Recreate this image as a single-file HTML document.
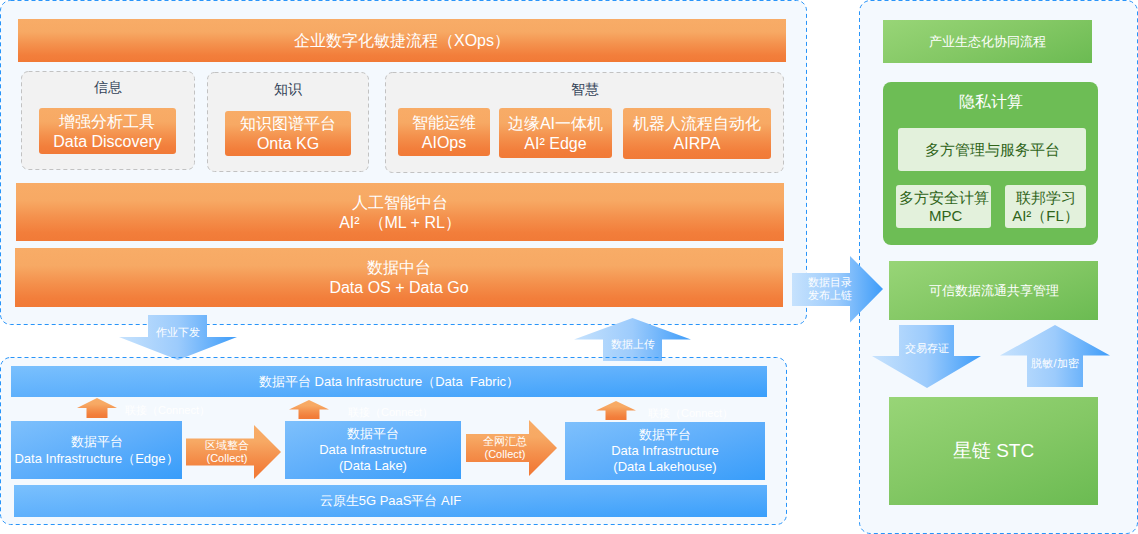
<!DOCTYPE html>
<html><head><meta charset="utf-8">
<style>
*{margin:0;padding:0;box-sizing:border-box}
html,body{width:1138px;height:534px;background:#fff;overflow:hidden}
body{position:relative;font-family:"Liberation Sans",sans-serif;color:#fff}
.a{position:absolute}
.c{display:flex;flex-direction:column;align-items:center;justify-content:center;text-align:center;white-space:nowrap}
.or{background:linear-gradient(180deg,#f8ac67 0%,#f7a964 30%,#f4904c 60%,#f27e3b 85%,#f17a37 100%)}
.bl{background:linear-gradient(to bottom right,#7ec0fc 0%,#5eaefb 50%,#389dfa 100%)}
.blbar{background:linear-gradient(to bottom right,#7ac0fd 0%,#5eb0fc 50%,#3a9ffb 100%)}
.gr{background:linear-gradient(160deg,#98d577 0%,#84c865 50%,#6bbb52 100%)}
.grp{background:#f2f2f2;border:1px dashed #c4c4c4;border-radius:7px}
.btn{border-radius:3px;font-size:16px;line-height:20px}
.gt{color:#334257;font-size:14px}
.lt{background:#e3f1dc;color:#2f6419;border-radius:3px;font-size:15px;line-height:18px}
.cn{color:#fff;font-size:11px}
svg{position:absolute;left:0;top:0}
</style></head><body>

<!-- container backgrounds -->
<svg width="1138" height="534" style="z-index:0">
  <rect x="0.5" y="0.5" width="806" height="324" rx="10" fill="#f4f9fe" stroke="#2894f9" stroke-dasharray="4 3"/>
  <rect x="859.5" y="0.5" width="278" height="533" rx="11" fill="#f4f9fe" stroke="#2894f9" stroke-dasharray="4 3"/>
  <rect x="0.5" y="357.5" width="786" height="167" rx="10" fill="#f4f9fe"/>
</svg>

<!-- top bar -->
<div class="a c or" style="left:18px;top:19px;width:768px;height:43px;font-size:16px;padding-top:1px">企业数字化敏捷流程（XOps）</div>

<!-- groups -->
<svg width="1138" height="534" style="z-index:0">
  <rect x="21.5" y="71.5" width="173" height="98" rx="7" fill="#f2f2f2" stroke="#c2c2c2" stroke-dasharray="4 3"/>
  <rect x="207.5" y="72.5" width="161" height="99" rx="7" fill="#f2f2f2" stroke="#c2c2c2" stroke-dasharray="4 3"/>
  <rect x="385.5" y="72.5" width="398" height="100" rx="7" fill="#f2f2f2" stroke="#c2c2c2" stroke-dasharray="4 3"/>
</svg>

<div class="a c gt" style="left:21px;top:78px;width:174px;height:20px">信息</div>
<div class="a c gt" style="left:207px;top:80px;width:162px;height:20px">知识</div>
<div class="a c gt" style="left:385px;top:80px;width:399px;height:20px">智慧</div>

<div class="a c or btn" style="left:39px;top:108px;width:137px;height:46px;padding-top:1px">增强分析工具<br>Data Discovery</div>
<div class="a c or btn" style="left:225px;top:111px;width:126px;height:45px">知识图谱平台<br>Onta KG</div>
<div class="a c or btn" style="left:398px;top:108px;width:92px;height:48px;padding-top:1px">智能运维<br>AIOps</div>
<div class="a c or btn" style="left:499px;top:108px;width:113px;height:50px;padding-top:2px">边缘AI一体机<br>AI² Edge</div>
<div class="a c or btn" style="left:623px;top:108px;width:148px;height:51px">机器人流程自动化<br>AIRPA</div>

<!-- AI bar -->
<div class="a c or" style="left:16px;top:183px;width:768px;height:58px;font-size:16px;line-height:20px;padding-top:1px">人工智能中台<br>AI²&nbsp;&nbsp;（ML + RL）</div>
<!-- Data bar -->
<div class="a c or" style="left:15px;top:248px;width:768px;height:59px;font-size:16px;line-height:20px">数据中台<br>Data OS + Data Go</div>

<!-- bottom-left content -->
<div class="a c blbar" style="left:11px;top:366px;width:756px;height:31px;font-size:13px">数据平台 Data Infrastructure（Data&nbsp; Fabric）</div>

<div class="a c bl" style="left:11px;top:421px;width:171px;height:58px;font-size:13px;line-height:17px">数据平台<br>Data Infrastructure（Edge）</div>
<div class="a c bl" style="left:285px;top:421px;width:176px;height:58px;font-size:13px;line-height:16px">数据平台<br>Data Infrastructure<br>(Data Lake)</div>
<div class="a c bl" style="left:565px;top:422px;width:200px;height:58px;font-size:13px;line-height:16px">数据平台<br>Data Infrastructure<br>(Data Lakehouse)</div>

<div class="a c blbar" style="left:14px;top:485px;width:753px;height:32px;font-size:13px">云原生5G PaaS平台 AIF</div>

<!-- connect labels -->
<div class="a cn" style="left:125px;top:403px">联接（Connect）</div>
<div class="a cn" style="left:348px;top:405px">联接（Connect）</div>
<div class="a cn" style="left:648px;top:406px">联接（Connect）</div>

<!-- orange up arrows -->
<svg width="1138" height="534" style="z-index:2">
  <defs>
    <linearGradient id="og" x1="0" y1="0" x2="0" y2="1">
      <stop offset="0" stop-color="#f8ac67"/><stop offset="0.3" stop-color="#f7a964"/><stop offset="0.6" stop-color="#f4904c"/><stop offset="0.85" stop-color="#f27e3b"/><stop offset="1" stop-color="#f17a37"/>
    </linearGradient>
    <linearGradient id="bg" x1="0" y1="0" x2="1" y2="0">
      <stop offset="0" stop-color="#c4e1fd"/><stop offset="0.45" stop-color="#9ccbfc"/><stop offset="1" stop-color="#3d9cf9"/>
    </linearGradient>
  </defs>
  <polygon fill="url(#og)" points="97,398 117,408 107.5,408 107.5,418 86.5,418 86.5,408 77,408"/>
  <polygon fill="url(#og)" points="309,400 329,409.5 319.5,409.5 319.5,419 298.5,419 298.5,409.5 289,409.5"/>
  <polygon fill="url(#og)" points="616,401 636,410.5 626.5,410.5 626.5,420 605.5,420 605.5,410.5 596,410.5"/>
  <!-- right orange arrows -->
  <polygon fill="url(#og)" points="186,438.5 254,438.5 254,425 281,452 254,479 254,465.5 186,465.5"/>
  <polygon fill="url(#og)" points="466,434 529,434 529,420 557,448 529,476 529,462 466,462"/>
</svg>

<div class="a c" style="z-index:5;left:186px;top:438px;width:82px;height:28px;font-size:11px;line-height:13px">区域整合<br>(Collect)</div>
<div class="a c" style="z-index:5;left:466px;top:434px;width:78px;height:28px;font-size:11px;line-height:13px">全网汇总<br>(Collect)</div>

<!-- blue arrows -->
<svg width="1138" height="534" style="z-index:3">
  <defs>
    <linearGradient id="bg1" gradientUnits="userSpaceOnUse" x1="119" y1="0" x2="237" y2="0">
      <stop offset="0" stop-color="#c6e2fd"/><stop offset="0.5" stop-color="#9ccbfc"/><stop offset="1" stop-color="#3d9cf9"/>
    </linearGradient>
    <linearGradient id="bg2" gradientUnits="userSpaceOnUse" x1="574" y1="0" x2="691" y2="0">
      <stop offset="0" stop-color="#c6e2fd"/><stop offset="0.5" stop-color="#9ccbfc"/><stop offset="1" stop-color="#3d9cf9"/>
    </linearGradient>
    <linearGradient id="bg3" gradientUnits="userSpaceOnUse" x1="792" y1="0" x2="883" y2="0">
      <stop offset="0" stop-color="#c6e2fd"/><stop offset="0.5" stop-color="#9ccbfc"/><stop offset="1" stop-color="#3d9cf9"/>
    </linearGradient>
    <linearGradient id="bg4" gradientUnits="userSpaceOnUse" x1="872" y1="0" x2="981" y2="0">
      <stop offset="0" stop-color="#c6e2fd"/><stop offset="0.5" stop-color="#9ccbfc"/><stop offset="1" stop-color="#3d9cf9"/>
    </linearGradient>
    <linearGradient id="bg5" gradientUnits="userSpaceOnUse" x1="1000" y1="0" x2="1110" y2="0">
      <stop offset="0" stop-color="#c6e2fd"/><stop offset="0.5" stop-color="#9ccbfc"/><stop offset="1" stop-color="#3d9cf9"/>
    </linearGradient>
  </defs>
  <!-- 作业下发 -->
  <polygon fill="url(#bg1)" points="148,315 207,315 207,337 237,337 178,360 119,337 148,337"/>
  <!-- 数据上传 -->
  <polygon fill="url(#bg2)" points="632.5,318 691,339.5 662,339.5 662,361 603,361 603,339.5 574,339.5"/>
  <!-- 数据目录 -->
  <polygon fill="url(#bg3)" points="792,273 850,273 850,256 883,289 850,322.5 850,306 792,306"/>
  <!-- 交易存证 -->
  <polygon fill="url(#bg4)" points="899,325 954,325 954,356 981,356 927,388 872,356 899,356"/>
  <!-- 脱敏/加密 -->
  <polygon fill="url(#bg5)" points="1055,325 1110,355.5 1083,355.5 1083,387 1027,387 1027,355.5 1000,355.5"/>
</svg>

<!-- bottom-left container border -->
<svg width="1138" height="534" style="z-index:4;pointer-events:none">
  <rect x="0.5" y="357.5" width="786" height="167" rx="10" fill="none" stroke="#2894f9" stroke-dasharray="4 3"/>
</svg>

<div class="a c" style="z-index:5;left:148px;top:322px;width:59px;height:20px;font-size:11px;color:#fff">作业下发</div>
<div class="a c" style="z-index:5;left:603px;top:334px;width:59px;height:20px;font-size:11px;color:#fff">数据上传</div>
<div class="a c" style="z-index:5;left:792px;top:272px;width:75px;height:33px;font-size:11px;line-height:13px;color:#fff">数据目录<br>发布上链</div>
<div class="a c" style="z-index:5;left:899px;top:338px;width:55px;height:20px;font-size:11px;color:#fff">交易存证</div>
<div class="a c" style="z-index:5;left:1027px;top:353px;width:56px;height:20px;font-size:11px;color:#fff">脱敏/加密</div>

<!-- right column -->
<div class="a c gr" style="left:883px;top:20px;width:209px;height:43px;font-size:13px">产业生态化协同流程</div>
<div class="a" style="left:883px;top:82px;width:215px;height:163px;background:#6dbd55;border-radius:8px"></div>
<div class="a c" style="left:883px;top:90px;width:215px;height:24px;font-size:16px">隐私计算</div>
<div class="a c lt" style="left:898px;top:128px;width:188px;height:43px">多方管理与服务平台</div>
<div class="a c lt" style="left:896px;top:185px;width:95px;height:43px">多方安全计算<br>&nbsp;MPC</div>
<div class="a c lt" style="left:1005px;top:185px;width:81px;height:43px">联邦学习<br>AI²（FL）</div>
<div class="a c gr" style="left:889px;top:261px;width:209px;height:59px;font-size:13px">可信数据流通共享管理</div>
<div class="a c gr" style="left:889px;top:397px;width:209px;height:108px;font-size:19px">星链 STC</div>

</body></html>
